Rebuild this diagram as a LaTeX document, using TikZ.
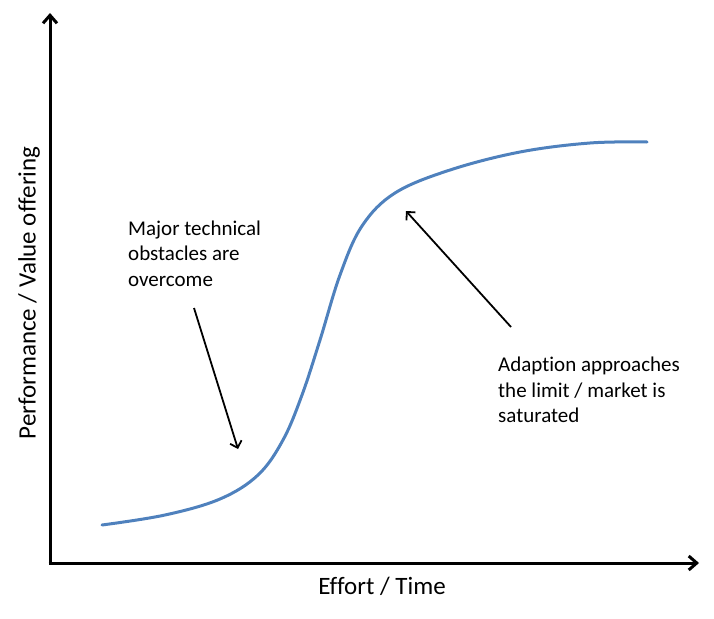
\documentclass[tikz,border=0pt]{standalone}
\usepackage{fontspec}
\setmainfont{Carlito}[Ligatures=NoCommon]
\usepackage{xcolor}
\usetikzlibrary{
    arrows.meta,
    positioning,
    calc
}
\definecolor{curveBlue}{RGB}{79,129,189}
\tikzset{
  axis/.style    = {line width=3pt, -{Straight Barb[length=8pt, width=14pt]}},
  note/.style    = {->, line width=1.8pt, -{Straight Barb[length=6pt, width=12pt]}},
  alabel/.style  = {inner sep=0pt, font=\fontsize{25}{30}\selectfont},
  ntext/.style   = {inner sep=0pt, align=left, anchor=north west,
                    font=\fontsize{21}{25.5}\selectfont}
}

\begin{document}
\begin{tikzpicture}[x=1pt, y=-1pt,
        scurve/.style={curveBlue, line width=3pt, line cap=round}
      ]
        \useasboundingbox (0,0) rectangle (714,618);

        % ── AXES ──
        \coordinate (O)    at (50,563);
        \coordinate (Ytop) at (50,13);
        \coordinate (Xend) at (699,563);
        \draw[axis] ([yshift=-1.5pt]O) -- (Ytop);
        \draw[axis] ([xshift=-1.5pt]O) -- (Xend);

        \node[alabel] (xlab) at (382,586) {Effort / Time};
        \node[alabel, rotate=90] (ylab) at (29,293) {Performance / Value offering};

        % ── S-CURVE ──
        \draw[scurve] plot[smooth, tension=0.6] coordinates {
          (102,525) (165,515) (220,499) (258,475) (283,440) (302,395)
          (320,340) (340,275) (362,226) (395,193) (450,170) (520,152)
          (590,143) (647,142)};

        % ── ANNOTATIONS ──
        \node[ntext] (tech) at (128,220.5) {Major technical\\obstacles are\\overcome};
        \coordinate (techS) at (194,308);
        \coordinate (techE) at (238,449);
        \draw[note] (techS) -- (techE);

        \node[ntext] (sat) at (498,357) {Adaption approaches\\the limit / market is\\saturated};
        \coordinate (satS) at (511,327);
        \coordinate (satE) at (406,211);
        \draw[note] (satS) -- (satE);
      \end{tikzpicture}
\end{document}
